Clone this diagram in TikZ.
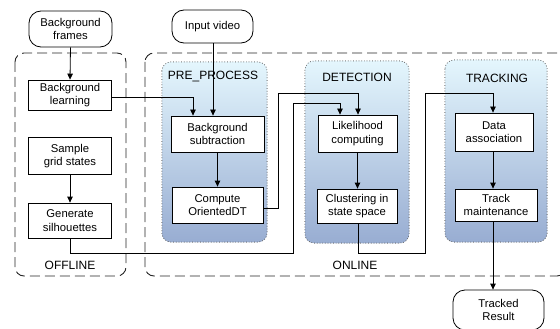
\documentclass[tikz,border=0pt]{standalone}
\usepackage{fontspec}
\setmainfont{Liberation Sans}
\usetikzlibrary{arrows.meta,calc}
\definecolor{regtop}{HTML}{E4F6FD}
\definecolor{regbot}{HTML}{98ADD2}
\tikzset{
  box/.style={draw=black, fill=white, line width=0.8pt, align=center, inner sep=0pt,
    font=\fontsize{11.3}{13.5}\selectfont},
  term/.style={box, rounded corners=12pt},
  group/.style={draw=black!85, line width=0.9pt, dash pattern=on 10pt off 5pt, rounded corners=9pt},
  region/.style={draw=black!60, dotted, line width=0.7pt, rounded corners=9pt, top color=regtop, bottom color=regbot},
  lbl/.style={font=\fontsize{12}{14}\selectfont, inner sep=0pt},
  conn/.style={draw=black, line width=0.8pt},
  arr/.style={conn, -{Triangle[length=6pt,width=5.5pt]}}
}
\begin{document}
\begin{tikzpicture}[x=1pt,y=-1pt]
\useasboundingbox (0,0) rectangle (560,329);
% groups
\draw[group] (15,53) rectangle (126,276);
\draw[group] (145,53) rectangle (566,276);
% regions
\shade[region] (162,62) rectangle (267,242);
\draw[region, fill=none] (162,62) rectangle (267,242);
\shade[region] (305,61) rectangle (409,243);
\draw[region, fill=none] (305,61) rectangle (409,243);
\shade[region] (445,60) rectangle (547,242);
\draw[region, fill=none] (445,60) rectangle (547,242);
% labels
\node[lbl] (lpre) at (213,77) {PRE\_PROCESS};
\node[lbl] (ldet) at (357,77) {DETECTION};
\node[lbl] (ltrk) at (497,78) {TRACKING};
\node[lbl] (loff) at (70,265) {OFFLINE};
\node[lbl] (lon) at (355,265) {ONLINE};
% nodes
\node[term, minimum width=83pt, minimum height=36pt] (bgf) at (70.5,29) {Background\\frames};
\node[box, minimum width=83pt, minimum height=30pt] (bgl) at (70,95) {Background\\learning};
\node[box, minimum width=83pt, minimum height=37pt] (sgs) at (70,156) {Sample\\grid states};
\node[box, minimum width=83pt, minimum height=35pt] (gs) at (70,220.5) {Generate\\silhouettes};
\node[term, minimum width=81pt, minimum height=33pt] (inp) at (212.5,26.5) {Input video};
\node[box, minimum width=93pt, minimum height=36pt] (bs) at (217.5,134) {Background\\subtraction};
\node[box, minimum width=91pt, minimum height=36pt] (cod) at (217.5,205) {Compute\\OrientedDT};
\node[box, minimum width=79pt, minimum height=37pt] (lh) at (357.5,133.5) {Likelihood\\computing};
\node[box, minimum width=80pt, minimum height=34pt] (cl) at (357,206) {Clustering in\\state space};
\node[box, minimum width=78pt, minimum height=38pt] (da) at (494,132) {Data\\association};
\node[box, minimum width=82pt, minimum height=32pt] (tm) at (496,205) {Track\\maintenance};
\node[term, minimum width=91pt, minimum height=40pt] (tr) at (498.5,310) {Tracked\\Result};
% connectors
\coordinate (a1) at (193,97);
\coordinate (c1) at (278,208);
\coordinate (c2) at (278,93);
\coordinate (c3) at (358,93);
\coordinate (g1) at (70,253);
\coordinate (g2) at (293,253);
\coordinate (g3) at (293,103);
\coordinate (g4) at (340,103);
\coordinate (k1) at (358,253);
\coordinate (k2) at (425,253);
\coordinate (k3) at (425,93);
\coordinate (k4) at (493,93);
\draw[arr] (bgf.south) -- (bgl.north);
\draw[arr] (sgs.south) -- (gs.north);
\draw[arr] (213,0 |- inp.south) -- (213,0 |- bs.north);
\draw[arr] (bgl.east |- a1) -- (a1) -- (a1 |- bs.north);
\draw[arr] (cod.east |- c1) -- (c1) -- (c2) -- (c3) -- (c3 |- lh.north);
\draw[arr] (gs.south -| g1) -- (g1) -- (g2) -- (g3) -- (g4) -- (g4 |- lh.north);
\draw[arr] (cl.south -| k1) -- (k1) -- (k2) -- (k3) -- (k4) -- (k4 |- da.north);
\draw[arr] (493,0 |- da.south) -- (493,0 |- tm.north);
\draw[arr] (493,0 |- tm.south) -- (493,0 |- tr.north);
\draw[arr] (357.5,0 |- lh.south) -- (357.5,0 |- cl.north);
\draw[arr] (217.5,0 |- bs.south) -- (217.5,0 |- cod.north);
\end{tikzpicture}
\end{document}
